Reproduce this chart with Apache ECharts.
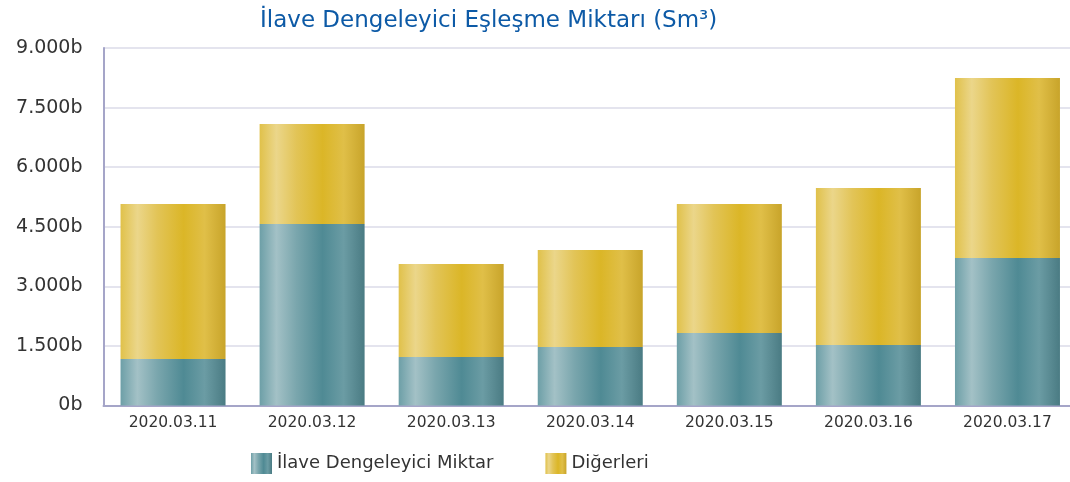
<!DOCTYPE html>
<html>
<head>
<meta charset="utf-8">
<script src="https://cdn.jsdelivr.net/npm/echarts@6/dist/echarts.min.js"></script>
<style>html,body{margin:0;padding:0;background:#fff;overflow:hidden;width:1070px;height:482px}#c{width:1077px;height:482px}</style>
</head>
<body>
<div id="c"></div>
<script>
const titleText = "İlave Dengeleyici Eşleşme Miktarı (Sm³)";
const categories = ["2020.03.11","2020.03.12","2020.03.13","2020.03.14","2020.03.15","2020.03.16","2020.03.17"];
const seriesNames = ["İlave Dengeleyici Miktar","Diğerleri"];
const ilaveValues = [1171, 4570, 1221, 1473, 1825, 1523, 3714];
const totalValues = [5074, 7088, 3563, 3915, 5074, 5477, 8246];
const digerValues = totalValues.map((t, i) => t - ilaveValues[i]);
const yTicks = [0, 1500, 3000, 4500, 6000, 7500, 9000];

function grad(stops){
  return new echarts.graphic.LinearGradient(0,0,1,0, stops.map(s=>({offset:s[0],color:s[1]})));
}
const tealGrad = grad([[0,'#6d9fa7'],[0.16,'#a3c1c6'],[0.35,'#7aa6ad'],[0.6,'#4f8a94'],[0.8,'#6b9ca4'],[1,'#4a7b83']]);
const goldGrad = grad([[0,'#e0c14a'],[0.16,'#ebd68a'],[0.35,'#e2c457'],[0.6,'#dbb627'],[0.8,'#e0bf48'],[1,'#c8a42a']]);

function fmt(v){
  return String(v).replace(/\B(?=(\d{3})+(?!\d))/g,'.') + 'b';
}

const chart = echarts.init(document.getElementById('c'), null, {renderer:'canvas'});
chart.setOption({
  animation:false,
  title:{text:titleText,left:255,top:5,textStyle:{color:'#0d5aa6',fontSize:23,fontWeight:'normal',fontFamily:'DejaVu Sans'}},
  legend:{
    data:seriesNames, left:246, top:448, itemWidth:21, itemHeight:21, itemGap:52, icon:'rect',
    textStyle:{fontSize:18,color:'#333',fontFamily:'DejaVu Sans'}
  },
  grid:{left:103.5, top:48, right:0, height:357.5, containLabel:false},
  xAxis:{
    type:'category', data:categories,
    axisLine:{lineStyle:{color:'#a5a5c8',width:2}},
    axisTick:{show:false},
    axisLabel:{color:'#333',fontSize:15.5,margin:9,fontFamily:'DejaVu Sans'}
  },
  yAxis:{
    type:'value', min:0, max:9000, interval:1500,
    axisLine:{show:true,lineStyle:{color:'#a5a5c8',width:2}},
    axisTick:{show:false},
    splitLine:{lineStyle:{color:'#e4e4ee',width:2}},
    axisLabel:{color:'#333',fontSize:19,margin:21,fontFamily:'DejaVu Sans',formatter:fmt}
  },
  series:[
    {name:seriesNames[0],type:'bar',stack:'s',data:ilaveValues,barWidth:'75.5%',itemStyle:{color:tealGrad}},
    {name:seriesNames[1],type:'bar',stack:'s',data:digerValues,barWidth:'75.5%',itemStyle:{color:goldGrad}}
  ]
});
</script>
</body>
</html>
